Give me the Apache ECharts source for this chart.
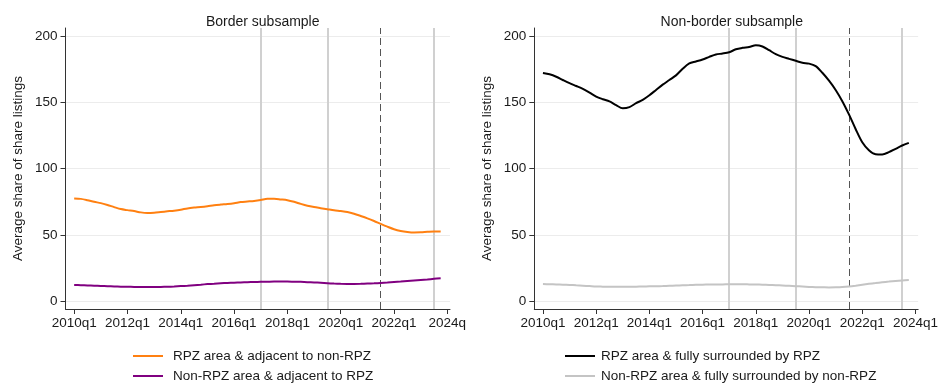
<!DOCTYPE html>
<html>
<head>
<meta charset="utf-8">
<script src="https://cdn.jsdelivr.net/npm/echarts@6/dist/echarts.min.js"></script>
<style>html,body{margin:0;padding:0;background:#fff;}#c{width:941px;height:389px;}</style>
</head>
<body>
<div id="c"></div>
<script>
// Quarter index 0 = 2010q1
const quarters = Array.from({length: 56}, (_, i) => i);
const tickQuarters = [0, 8, 16, 24, 32, 40, 48, 56];
const tickLabelsLeft = ['2010q1','2012q1','2014q1','2016q1','2018q1','2020q1','2022q1','2024q'];
const tickLabelsRight = ['2010q1','2012q1','2014q1','2016q1','2018q1','2020q1','2022q1','2024q1'];
const yTicks = [0, 50, 100, 150, 200];
const eventLinesSolid = [28, 38, 54];   // 2017q1, 2019q3, 2023q3
const eventLinesDashed = [46];          // 2021q3

const panelTitles = ['Border subsample', 'Non-border subsample'];
const yAxisTitle = 'Average share of share listings';

const borderRPZ = [77.5,77.2,76.2,75.0,74.0,72.6,71.0,69.5,68.7,68.0,67.0,66.6,66.8,67.3,67.8,68.3,69.0,70.0,70.6,71.0,71.6,72.4,72.9,73.3,73.9,74.8,75.2,75.6,76.3,77.3,77.3,76.8,76.2,75.0,73.4,72.0,71.0,70.2,69.4,68.6,68.0,67.3,66.0,64.3,62.5,60.5,58.3,56.2,54.3,53.0,52.2,51.8,51.9,52.3,52.6,52.5];
const borderNonRPZ = [12.1,12.0,11.8,11.6,11.4,11.2,11.0,10.9,10.8,10.7,10.6,10.6,10.6,10.7,10.8,11.0,11.3,11.6,12.0,12.4,12.8,13.1,13.4,13.7,13.9,14.1,14.3,14.4,14.5,14.6,14.7,14.7,14.7,14.6,14.5,14.3,14.1,13.8,13.5,13.2,13.0,12.9,12.9,13.0,13.2,13.4,13.7,14.0,14.4,14.7,15.1,15.5,15.9,16.3,16.8,17.2];
const nonBorderRPZ = [172.3,171.3,169.5,167.0,164.6,162.5,160.3,157.5,154.5,152.5,150.8,148.0,145.6,146.5,149.5,152.0,155.5,159.5,163.5,167.0,170.5,175.5,179.6,181.0,182.5,184.5,186.3,187.0,188.0,190.2,191.3,192.0,193.2,192.3,189.5,186.5,184.5,183.0,181.5,180.0,179.4,177.5,172.5,166.5,159.5,151.0,141.0,130.0,120.0,114.0,111.0,110.8,112.5,115.0,117.5,119.5];
const nonBorderNonRPZ = [12.8,12.7,12.6,12.4,12.2,11.9,11.6,11.3,11.0,10.9,10.8,10.8,10.8,10.8,10.9,11.0,11.1,11.2,11.3,11.5,11.7,11.9,12.1,12.3,12.4,12.5,12.6,12.6,12.7,12.7,12.7,12.6,12.5,12.4,12.2,12.0,11.8,11.5,11.2,11.0,10.7,10.5,10.4,10.3,10.4,10.6,11.0,11.6,12.3,13.0,13.6,14.2,14.7,15.2,15.6,15.9];

const seriesNames = ['RPZ area & adjacent to non-RPZ','Non-RPZ area & adjacent to RPZ','RPZ area & fully surrounded by RPZ','Non-RPZ area & fully surrounded by non-RPZ'];
const colors = ['#ff8011','#800080','#000000','#c4c4c4'];

const FONT = 'Liberation Sans, Arial, Helvetica, sans-serif';
const TXT = '#1a1a1a';

function xAxisFor(gi, labels) {
  return {
    type: 'value', gridIndex: gi, min: -1.3, max: 56.4, z: 10,
    axisLine: {show: true, onZero: false, lineStyle: {color: '#333', width: 1}},
    axisTick: {show: true, length: 5, customValues: tickQuarters, lineStyle: {color: '#333'}},
    axisLabel: {show: true, customValues: tickQuarters, margin: 7, color: TXT, fontSize: 13.5, fontFamily: FONT,
      formatter: v => labels[tickQuarters.indexOf(Math.round(v))] || ''},
    splitLine: {show: false}
  };
}
function yAxisFor(gi) {
  return {
    type: 'value', gridIndex: gi, min: -6, max: 206.3, z: 10,
    name: yAxisTitle, nameLocation: 'middle', nameGap: 40, nameRotate: 90,
    nameTextStyle: {color: TXT, fontSize: 13.5, fontFamily: FONT},
    axisLine: {show: true, onZero: false, lineStyle: {color: '#333', width: 1}},
    axisTick: {show: true, length: 5, customValues: yTicks, lineStyle: {color: '#333'}},
    axisLabel: {show: true, customValues: yTicks, margin: 8, color: TXT, fontSize: 13.5, fontFamily: FONT},
    splitLine: {show: false}
  };
}
function refSeries(gi) {
  return {
    type: 'line', xAxisIndex: gi, yAxisIndex: gi, data: [], z: 1, silent: true,
    markLine: {
      silent: true, symbol: 'none', animation: false, label: {show: false}, z: 1,
      data: [
        ...yTicks.map(v => ({yAxis: v, lineStyle: {color: '#ececec', width: 1, type: 'solid'}})),
        ...eventLinesSolid.map(v => ({xAxis: v, lineStyle: {color: '#d0d0d0', width: 2, type: 'solid'}})),
        ...eventLinesDashed.map(v => ({xAxis: v, lineStyle: {color: '#555', width: 1, type: [7, 4]}}))
      ]
    }
  };
}
function dataSeries(gi, name, vals, color) {
  return {
    type: 'line', name: name, xAxisIndex: gi, yAxisIndex: gi, z: 5,
    data: quarters.map((q, i) => [q, vals[i]]),
    showSymbol: false, symbol: 'none', smooth: 0.3,
    lineStyle: {color: color, width: 2}, itemStyle: {color: color},
    animation: false
  };
}

const chart = echarts.init(document.getElementById('c'), null, {renderer: 'canvas'});
chart.setOption({
  backgroundColor: '#fff',
  animation: false,
  title: [
    {text: panelTitles[0], left: 257.7, top: 10, textAlign: 'center', textStyle: {color: TXT, fontSize: 14, fontWeight: 'normal', fontFamily: FONT}},
    {text: panelTitles[1], left: 726.8, top: 10, textAlign: 'center', textStyle: {color: TXT, fontSize: 14, fontWeight: 'normal', fontFamily: FONT}}
  ],
  grid: [
    {left: 65.5, right: 491, top: 28, bottom: 80},
    {left: 534.3, right: 21.7, top: 28, bottom: 80}
  ],
  xAxis: [xAxisFor(0, tickLabelsLeft), xAxisFor(1, tickLabelsRight)],
  yAxis: [yAxisFor(0), yAxisFor(1)],
  legend: [
    {data: [seriesNames[0], seriesNames[1]], orient: 'vertical', left: 133, top: 349, padding: 0,
     itemWidth: 30, itemHeight: 2, itemGap: 6, icon: 'rect',
     textStyle: {color: TXT, fontSize: 13.5, fontFamily: FONT, lineHeight: 14, padding: [0, 0, 0, 5]}},
    {data: [seriesNames[2], seriesNames[3]], orient: 'vertical', left: 565, top: 349, padding: 0,
     itemWidth: 30, itemHeight: 2, itemGap: 6, icon: 'rect',
     textStyle: {color: TXT, fontSize: 13.5, fontFamily: FONT, lineHeight: 14, padding: [0, 0, 0, 1]}}
  ],
  series: [
    refSeries(0), refSeries(1),
    dataSeries(0, seriesNames[0], borderRPZ, colors[0]),
    dataSeries(0, seriesNames[1], borderNonRPZ, colors[1]),
    dataSeries(1, seriesNames[2], nonBorderRPZ, colors[2]),
    dataSeries(1, seriesNames[3], nonBorderNonRPZ, colors[3])
  ]
});
</script>
</body>
</html>
